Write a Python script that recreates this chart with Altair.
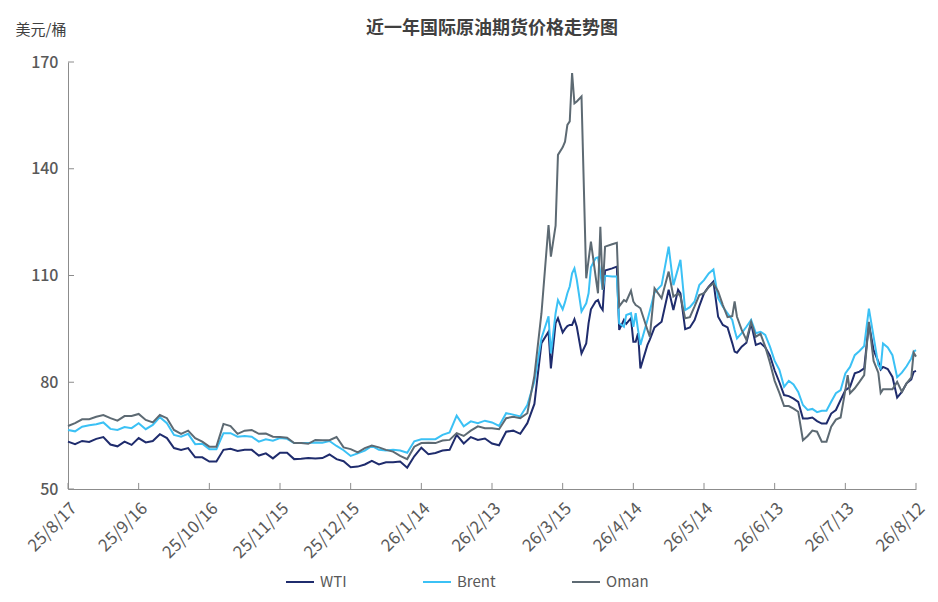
import pandas as pd
import altair as alt

FONT = "Noto Sans CJK SC"

start = pd.Timestamp("2025-08-17")

# days since 2025-08-17
days = [0, 3, 6, 9, 12, 15, 18, 21, 24, 27, 30, 33, 36, 39, 42, 45, 48, 51, 54, 57,
        60, 63, 66, 69, 72, 75, 78, 81, 84, 87, 90, 93, 96, 99, 102, 105, 108, 111, 114, 117,
        120, 123, 126, 129, 132, 135, 138, 141, 144, 147, 150, 153, 156, 159, 162, 165, 168, 171, 174, 177,
        180, 183, 186, 189, 192, 195, 198, 201, 204, 205, 207, 208, 210, 211, 212, 213, 214, 215, 216, 218,
        220, 221, 222, 224, 225, 226, 227, 228, 231, 233, 234, 236, 237, 239, 240, 241, 242, 243, 246, 247,
        249, 252, 255, 257, 259, 260, 262, 264, 266, 268, 270, 272, 274, 276, 278, 280, 282, 283, 284, 286,
        288, 290, 292, 294, 296, 298, 300, 302, 304, 306, 308, 310, 312, 314, 316, 318, 320, 322, 324, 326,
        328, 330, 331, 332, 334, 336, 338, 340, 342, 344, 345, 346, 348, 350, 352, 354, 356, 358, 359, 360]

wti = [63.3, 62.6, 63.5, 63.2, 64.1, 64.6, 62.5, 62.0, 63.3, 62.4, 64.3, 63.1, 63.5, 65.4, 64.3, 61.5, 61.0, 61.5, 58.9, 58.9,
       57.7, 57.7, 61.0, 61.3, 60.7, 61.0, 61.0, 59.4, 60.0, 58.6, 60.2, 60.2, 58.4, 58.5, 58.7, 58.6, 58.7, 59.7, 58.4, 57.8,
       56.1, 56.3, 56.9, 57.9, 56.9, 57.5, 57.5, 57.7, 56.0, 59.2, 61.6, 59.8, 60.1, 60.8, 61.0, 65.2, 62.8, 64.6, 63.8, 64.2,
       62.8, 62.3, 66.1, 66.4, 65.5, 68.5, 73.9, 91.0, 94.2, 83.9, 96.6, 98.0, 94.0, 95.0, 95.8, 96.1, 96.1, 97.7, 95.6, 88.1,
       90.9, 96.6, 100.5, 102.7, 103.1, 101.3, 100.3, 111.4, 112.0, 112.5, 94.7, 97.5, 96.4, 98.0, 91.4, 91.4, 93.8, 83.9, 90.5, 92.0,
       95.4, 97.0, 106.0, 100.3, 106.0, 105.0, 94.9, 95.4, 97.5, 101.4, 105.0, 106.9, 108.3, 98.4, 96.1, 95.4, 91.0, 88.6, 88.3, 90.0,
       91.1, 96.6, 90.5, 91.0, 89.8, 87.5, 83.3, 80.0, 76.4, 76.1, 75.4, 74.5, 69.8, 69.8, 70.1, 69.1, 68.4, 68.4, 71.2, 72.2,
       75.0, 77.8, 78.2, 78.7, 82.5, 83.0, 83.9, 96.5, 89.0, 85.8, 83.6, 84.3, 83.7, 81.5, 75.7, 77.3, 79.7, 80.8, 82.9, 83.2]

brent = [66.6, 66.2, 67.5, 67.9, 68.2, 68.7, 66.9, 66.6, 67.4, 67.1, 68.5, 66.8, 68.0, 70.2, 68.5, 65.2, 64.7, 65.5, 62.6, 62.7,
         61.2, 61.2, 65.7, 65.7, 64.7, 64.9, 64.7, 63.3, 64.0, 63.6, 64.3, 64.1, 62.9, 62.9, 62.9, 63.1, 63.0, 63.5, 62.1, 60.9,
         59.3, 60.0, 60.8, 62.1, 61.0, 60.8, 61.0, 60.8, 60.2, 63.4, 64.0, 64.0, 64.0, 65.2, 65.9, 70.6, 67.6, 69.0, 68.5, 69.2,
         68.7, 67.7, 71.3, 70.9, 70.4, 73.6, 80.2, 92.4, 98.5, 88.1, 99.4, 103.1, 100.5, 102.5, 105.0, 106.9, 110.6, 112.0, 108.8, 99.9,
         102.2, 105.0, 112.3, 114.9, 115.1, 110.6, 106.0, 109.9, 109.7, 109.7, 96.6, 95.6, 98.9, 99.4, 95.6, 99.4, 94.7, 90.5, 97.5, 100.0,
         105.2, 107.3, 118.1, 107.3, 112.0, 114.4, 100.3, 101.1, 102.7, 107.3, 108.7, 110.6, 111.7, 103.6, 101.2, 99.4, 97.5, 94.7, 92.3, 93.8,
         95.6, 97.5, 93.8, 94.2, 93.3, 90.0, 86.0, 83.5, 78.7, 80.4, 79.4, 77.3, 73.6, 72.2, 72.5, 71.6, 72.0, 72.0, 74.5, 76.9,
         77.8, 82.5, 83.4, 84.3, 87.6, 88.8, 90.2, 100.7, 92.8, 84.8, 83.9, 90.9, 89.8, 87.6, 81.4, 82.7, 84.5, 86.7, 88.6, 89.0]

oman = [67.7, 68.5, 69.6, 69.6, 70.3, 70.8, 69.9, 69.2, 70.5, 70.5, 71.1, 69.4, 68.7, 70.8, 69.9, 66.6, 65.5, 66.4, 64.3, 63.3,
        61.9, 61.9, 68.3, 67.7, 65.5, 66.4, 66.6, 65.5, 65.6, 64.7, 64.6, 64.4, 62.9, 62.9, 62.7, 63.8, 63.7, 63.7, 64.6, 61.7,
        61.2, 60.3, 61.5, 62.2, 61.7, 61.0, 60.5, 59.3, 58.4, 61.9, 62.9, 63.0, 62.9, 63.6, 63.8, 65.7, 64.9, 66.4, 67.6, 67.1,
        67.1, 66.8, 69.9, 70.3, 69.9, 71.3, 81.8, 99.4, 124.2, 115.3, 124.0, 143.9, 146.0, 147.6, 152.3, 153.3, 166.9, 158.4, 158.9, 160.3,
        109.2, 114.4, 119.5, 109.7, 105.0, 123.7, 106.0, 118.1, 118.8, 119.2, 101.3, 103.1, 102.7, 105.7, 102.7, 101.7, 101.3, 100.8, 94.7, 92.8,
        106.4, 103.6, 111.1, 104.1, 105.0, 104.1, 98.0, 98.3, 101.3, 104.5, 105.0, 106.7, 107.8, 105.5, 101.7, 98.3, 98.6, 102.7, 98.4, 94.7,
        91.9, 97.0, 92.8, 93.6, 90.0, 85.5, 80.4, 77.0, 73.3, 73.3, 72.6, 71.7, 63.7, 64.9, 66.4, 66.1, 63.3, 63.3, 67.5, 69.5,
        70.1, 77.8, 82.0, 76.9, 78.3, 80.1, 82.0, 97.0, 86.0, 82.7, 77.0, 78.0, 78.0, 78.0, 80.1, 77.3, 79.7, 81.4, 88.3, 87.2]

series = ["WTI", "Brent", "Oman"]
colors = ["#1f2c6d", "#3bc1f5", "#5d6a73"]
tick_days = list(range(0, 361, 30))
y_ticks = [50, 80, 110, 140, 170]

dates = [start + pd.Timedelta(days=d) for d in days]
df = pd.concat([
    pd.DataFrame({"date": dates, "price": vals, "series": name})
    for name, vals in zip(series, [wti, brent, oman])
])
ticks_x = pd.DataFrame({"date": [start + pd.Timedelta(days=d) for d in tick_days]})
ticks_y = pd.DataFrame({"price": y_ticks})

d0 = alt.DateTime(year=2025, month=8, date=17)
d1 = alt.DateTime(year=2026, month=8, date=12)
x_vals = [alt.DateTime(year=t.year, month=t.month, date=t.day) for t in ticks_x["date"]]

x_enc = alt.X("date:T", title=None,
              scale=alt.Scale(domain=[d0, d1]),
              axis=alt.Axis(values=x_vals, format="%y/%-m/%-d", labelAngle=-45,
                            ticks=False, grid=False, labelPadding=11,
                            domainColor="#8c8c8c", labelColor="#595959",
                            labelFontSize=17, labelFont=FONT))
y_enc = alt.Y("price:Q", title="美元/桶",
              scale=alt.Scale(domain=[50, 170], nice=False, zero=False),
              axis=alt.Axis(values=y_ticks, ticks=False, grid=False, labelPadding=10,
                            domainColor="#8c8c8c", labelColor="#595959",
                            labelFontSize=16, labelFont=FONT, labelFontWeight=500,
                            titleAngle=0, titleAlign="left", titleBaseline="middle",
                            titleX=-53, titleY=-33, titleFont=FONT, titleFontSize=15,
                            titleFontWeight="normal", titleColor="#404040"))

color_enc = alt.Color("series:N",
                      scale=alt.Scale(domain=series, range=colors),
                      legend=alt.Legend(title=None, orient="none", direction="horizontal",
                                        legendX=217, legendY=505,
                                        symbolType="stroke", symbolSize=784, symbolStrokeWidth=2,
                                        labelFont=FONT, labelFontSize=15, labelColor="#595959",
                                        labelOffset=5, columnPadding=72))

base = alt.Chart(df)
lines = [
    base.transform_filter(alt.datum.series == s)
    .mark_line(strokeWidth=2)
    .encode(x=x_enc, y=y_enc, color=color_enc)
    for s in series
]

xticks = alt.Chart(ticks_x).mark_rule(color="#8c8c8c", strokeWidth=1).encode(
    x="date:T", y=alt.datum(50), y2=alt.datum(51.7))
yticks = alt.Chart(ticks_y).mark_rule(color="#8c8c8c", strokeWidth=1).encode(
    y="price:Q", x=alt.value(0), x2=alt.value(6))

chart = alt.layer(*lines, xticks, yticks).properties(
    width=848, height=427,
    autosize=alt.AutoSizeParams(type="none"),
    padding={"left": 60, "top": 54, "right": 12, "bottom": 104},
    title=alt.TitleParams("近一年国际原油期货价格走势图", font=FONT, fontSize=18,
                          fontWeight="bold", color="#404040", anchor="middle", offset=-16),
).configure_view(stroke=None)

chart.save("out.html", embed_options={"renderer": "svg", "actions": False})
